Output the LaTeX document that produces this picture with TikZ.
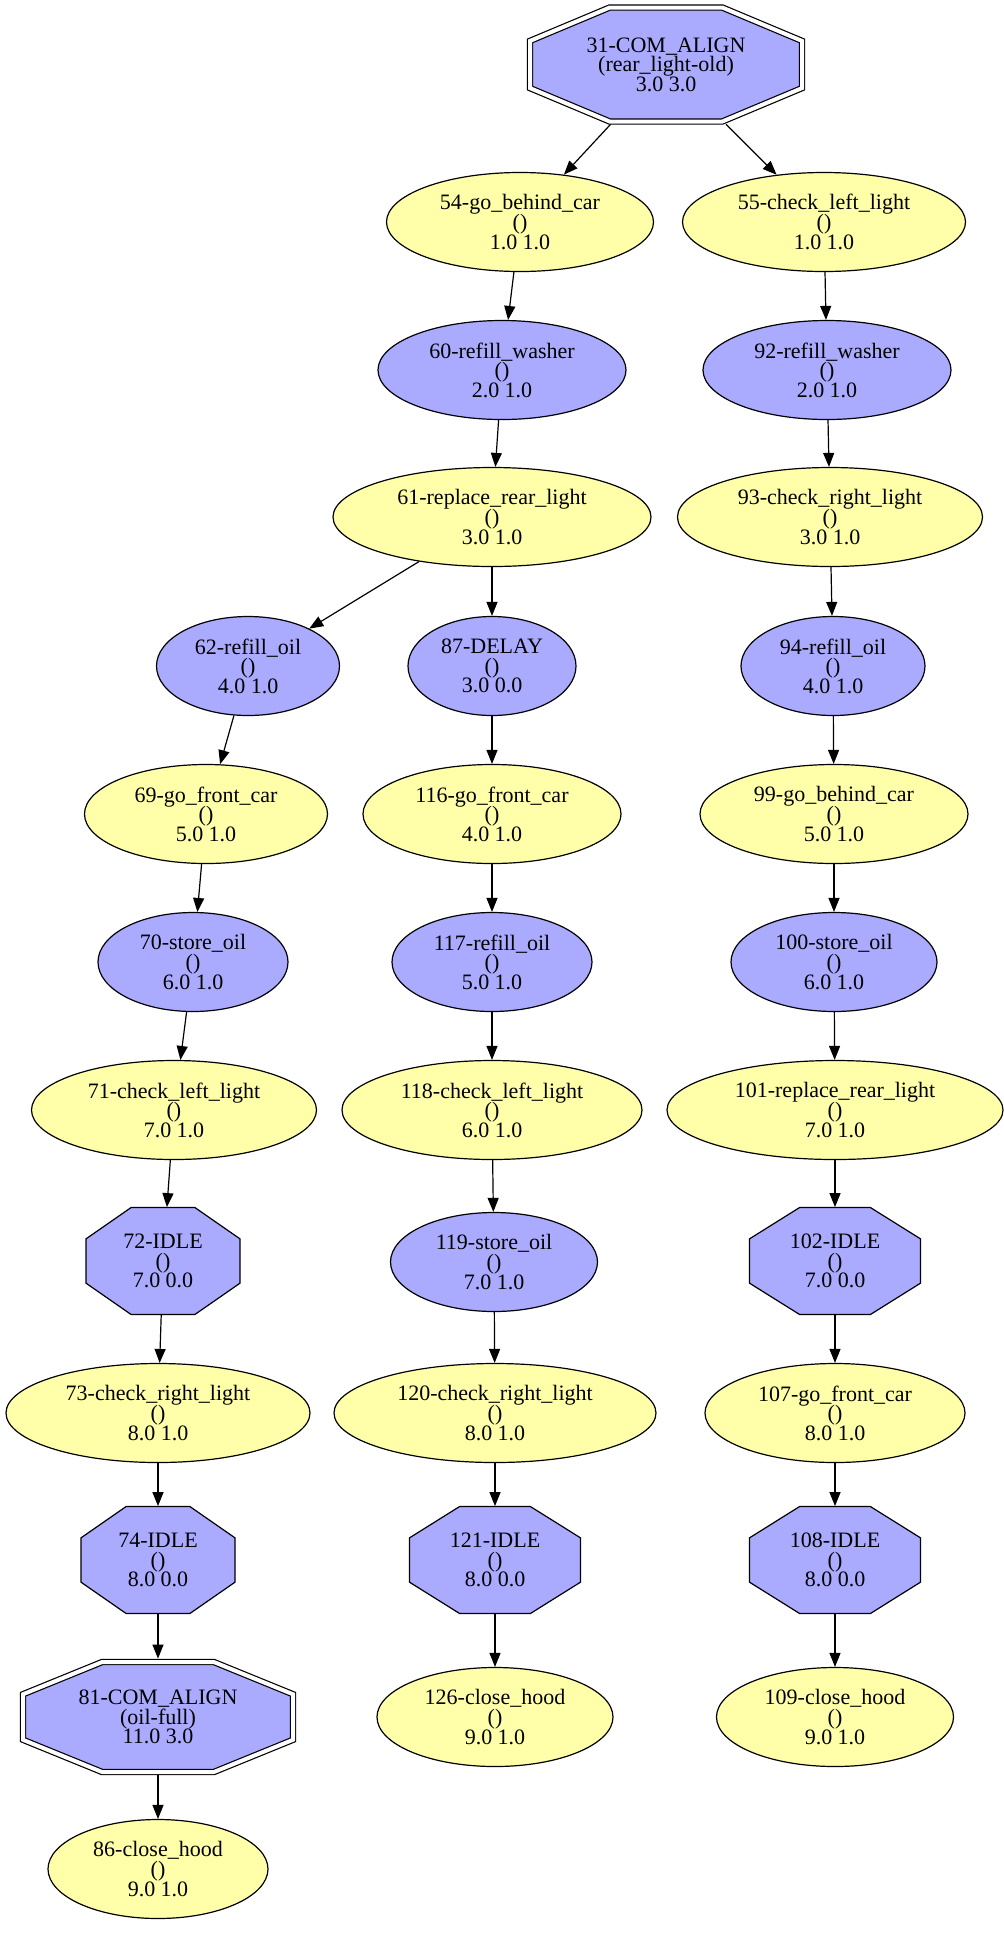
\documentclass[tikz,border=0pt]{standalone}
\usepackage{fontspec}
\setmainfont{Liberation Serif}
\usetikzlibrary{shapes.geometric,arrows.meta}

\definecolor{gelb}{HTML}{FFFFAA}
\definecolor{blau}{HTML}{AAAAFF}

% Achteck: [Stil] {x}{y}{Breite}{Hoehe}
\newcommand{\achteck}[5][]{%
  \filldraw[line width=0.6pt,fill=blau,#1]
    ({#2-#4/2+0.293*#4},{#3-#5/2}) -- ++({0.414*#4},0)
    -- ++({0.293*#4},{0.293*#5}) -- ++(0,{0.414*#5})
    -- ++({-0.293*#4},{0.293*#5}) -- ++({-0.414*#4},0)
    -- ++({-0.293*#4},{-0.293*#5}) -- ++(0,{-0.414*#5}) -- cycle;}

\begin{document}
\begin{tikzpicture}[x=0.5pt,y=-0.5pt,
    every node/.style={align=center,font={\fontsize{11}{9.8}\selectfont\lineskiplimit=-5pt}},
    ell/.style={ellipse,draw,line width=0.6pt,inner sep=0pt,minimum height=49.5pt,minimum width=#1*0.5pt},
    gelbell/.style={ell=#1,fill=gelb},
    blauell/.style={ell=#1,fill=blau},
    okt/.style 2 args={rectangle,inner sep=0pt,minimum width=#1*0.5pt,minimum height=#2*0.5pt},
    doppel/.style={double=white,double distance=2pt},
    pfeil/.style={-{Triangle[length=7pt,width=5.5pt]},line width=0.6pt}]

    \useasboundingbox (0,0) rectangle (1004,1940);

    % Achtecke
    \achteck[doppel]{666}{64.5}{272}{114}
    \achteck{163}{1261}{154}{107}
    \achteck{835}{1261}{171}{107}
    \achteck{158}{1560}{154}{107}
    \achteck{495}{1560}{171}{107}
    \achteck{835}{1560}{171}{107}
    \achteck[doppel]{158}{1717}{270}{110}

    % Knoten oben
    \node[okt={277}{119}] (n31) at (666,64.5) {31-COM\_ALIGN\\(rear\_light-old)\\3.0 3.0};
    \node[gelbell=267] (n54) at (520,222) {54-go\_behind\_car\\()\\1.0 1.0};
    \node[gelbell=283] (n55) at (824,222) {55-check\_left\_light\\()\\1.0 1.0};
    \node[blauell=248] (n60) at (502,370) {60-refill\_washer\\()\\2.0 1.0};
    \node[blauell=248] (n92) at (827,370) {92-refill\_washer\\()\\2.0 1.0};
    \node[gelbell=318] (n61) at (492,517) {61-replace\_rear\_light\\()\\3.0 1.0};
    \node[gelbell=305] (n93) at (830,517) {93-check\_right\_light\\()\\3.0 1.0};

    % linke Spalte
    \node[blauell=183] (n62) at (248,666) {62-refill\_oil\\()\\4.0 1.0};
    \node[gelbell=243] (n69) at (206,814) {69-go\_front\_car\\()\\5.0 1.0};
    \node[blauell=190] (n70) at (193,962) {70-store\_oil\\()\\6.0 1.0};
    \node[gelbell=285] (n71) at (174,1110) {71-check\_left\_light\\()\\7.0 1.0};
    \node[okt={154}{107}] (n72) at (163,1261) {72-IDLE\\()\\7.0 0.0};
    \node[gelbell=304] (n73) at (158,1413) {73-check\_right\_light\\()\\8.0 1.0};
    \node[okt={154}{107}] (n74) at (158,1560) {74-IDLE\\()\\8.0 0.0};
    \node[okt={276}{116}] (n81) at (158,1717) {81-COM\_ALIGN\\(oil-full)\\11.0 3.0};
    \node[gelbell=220] (n86) at (158,1869) {86-close\_hood\\()\\9.0 1.0};

    % mittlere Spalte
    \node[blauell=168] (n87) at (492,666) {87-DELAY\\()\\3.0 0.0};
    \node[gelbell=258] (n116) at (492,814) {116-go\_front\_car\\()\\4.0 1.0};
    \node[blauell=200] (n117) at (492,962) {117-refill\_oil\\()\\5.0 1.0};
    \node[gelbell=300] (n118) at (492,1110) {118-check\_left\_light\\()\\6.0 1.0};
    \node[blauell=207] (n119) at (494,1262) {119-store\_oil\\()\\7.0 1.0};
    \node[gelbell=322] (n120) at (495,1413) {120-check\_right\_light\\()\\8.0 1.0};
    \node[okt={171}{107}] (n121) at (495,1560) {121-IDLE\\()\\8.0 0.0};
    \node[gelbell=236] (n126) at (495,1717) {126-close\_hood\\()\\9.0 1.0};

    % rechte Spalte
    \node[blauell=184] (n94) at (833,666) {94-refill\_oil\\()\\4.0 1.0};
    \node[gelbell=268] (n99) at (834,814) {99-go\_behind\_car\\()\\5.0 1.0};
    \node[blauell=206] (n100) at (834,962) {100-store\_oil\\()\\6.0 1.0};
    \node[gelbell=336] (n101) at (835,1110) {101-replace\_rear\_light\\()\\7.0 1.0};
    \node[okt={171}{107}] (n102) at (835,1261) {102-IDLE\\()\\7.0 0.0};
    \node[gelbell=260] (n107) at (835,1413) {107-go\_front\_car\\()\\8.0 1.0};
    \node[okt={171}{107}] (n108) at (835,1560) {108-IDLE\\()\\8.0 0.0};
    \node[gelbell=237] (n109) at (835,1717) {109-close\_hood\\()\\9.0 1.0};

    % Kanten
    \foreach \a/\b in {n31/n54,n31/n55,n54/n60,n60/n61,n61/n62,n61/n87,
        n62/n69,n69/n70,n70/n71,n71/n72,n72/n73,n73/n74,n74/n81,n81/n86,
        n87/n116,n116/n117,n117/n118,n118/n119,n119/n120,n120/n121,n121/n126,
        n55/n92,n92/n93,n93/n94,n94/n99,n99/n100,n100/n101,n101/n102,
        n102/n107,n107/n108,n108/n109}
        \draw[pfeil] (\a) -- (\b);

\end{tikzpicture}
\end{document}
